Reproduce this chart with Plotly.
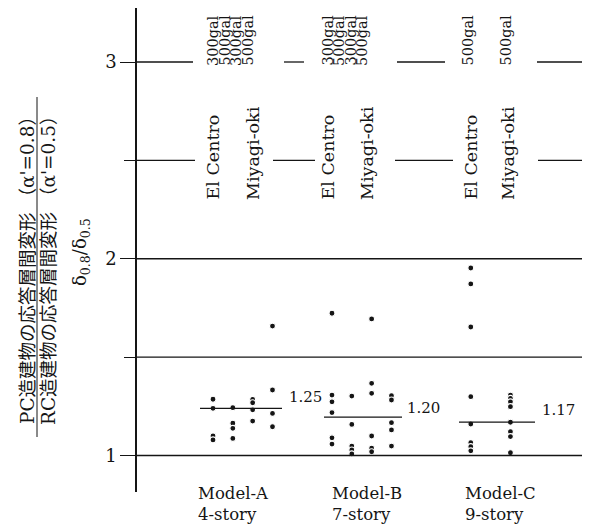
import plotly.graph_objects as go

# ---------------- data ----------------
models = ["Model-A", "Model-B", "Model-C"]
stories = ["4-story", "7-story", "9-story"]
col_labels = ["El Centro 300gal", "El Centro 500gal", "Miyagi-oki 300gal", "Miyagi-oki 500gal"]

# Model-A (4-story)
a_ec300 = [1.286, 1.240, 1.099, 1.079]
a_ec500 = [1.243, 1.164, 1.138, 1.087]
a_mo300 = [1.285, 1.268, 1.232, 1.175]
a_mo500 = [1.658, 1.333, 1.214, 1.146]
# Model-B (7-story)
b_ec300 = [1.723, 1.307, 1.273, 1.218, 1.090, 1.058]
b_ec500 = [1.302, 1.158, 1.048, 1.028, 1.008]
b_mo300 = [1.694, 1.367, 1.316, 1.099, 1.037, 1.019]
b_mo500 = [1.304, 1.282, 1.167, 1.130, 1.048]
# Model-C (9-story): only 500gal cases
c_ec500 = [1.953, 1.872, 1.653, 1.299, 1.160, 1.065, 1.045, 1.024]
c_mo500 = [1.307, 1.290, 1.273, 1.248, 1.169, 1.121, 1.096, 1.014]

mean_values = [1.24, 1.195, 1.17]
mean_labels = ["1.25", "1.20", "1.17"]

y_ticks = [1, 2, 3]
y_minor = [1.5, 2.5]
full_grid = [1, 1.5, 2]

series = [
    (0, 0, a_ec300), (0, 1, a_ec500), (0, 2, a_mo300), (0, 3, a_mo500),
    (1, 0, b_ec300), (1, 1, b_ec500), (1, 2, b_mo300), (1, 3, b_mo500),
    (2, 1, c_ec500), (2, 3, c_mo500),
]

# ---------------- geometry helpers (layout only; page pixels) ----------------
OFF = 8                 # page body margin
GROUP = 6               # x-units between model groups
PX_L, PX_R, PX_T, PX_B = 137, 590, 8, 492   # plot area in page pixels
W, H = 590 - OFF, 524 - OFF
L, R, T, B = PX_L - OFF, 0, PX_T - OFF, H - (PX_B - OFF)
PXU = 19.83             # pixels per x unit
X0PX = 213              # page pixel of x=0


def xu(px):
    return (px - X0PX) / PXU


def yv(py):
    return 1 + (455.5 - py) / 196.75


def xp(px):
    return (px - PX_L) / (PX_R - PX_L)


def yp(py):
    return (PX_B - py) / (PX_B - PX_T)


FONT = "DejaVu Serif, Noto Sans CJK JP"
INK = "#151515"

fig = go.Figure()

xs, ys = [], []
for g, c, vals in series:
    for v in vals:
        xs.append(g * GROUP + c)
        ys.append(v)

shapes = []
for v in full_grid:
    shapes.append(dict(type="line", xref="paper", yref="y", x0=0, x1=1, y0=v, y1=v,
                       line=dict(color=INK, width=1.6 if v == 1 else 1.3)))
segs3 = [(137, 193), (284, 304), (397, 445), (537, 590)]
segs25 = [(137, 195), (273, 315), (395, 453), (538, 590)]
for v, segs in [(3, segs3), (2.5, segs25)]:
    for a, b in segs:
        shapes.append(dict(type="line", xref="x", yref="y", x0=xu(a), x1=xu(b), y0=v, y1=v,
                           line=dict(color=INK, width=1.3)))
mean_spans = [(200, 282), (324, 402), (459, 535)]
for (a, b), m in zip(mean_spans, mean_values):
    shapes.append(dict(type="line", xref="x", yref="y", x0=xu(a), x1=xu(b), y0=m, y1=m,
                       line=dict(color=INK, width=1.3)))
shapes.append(dict(type="line", xref="paper", yref="paper", x0=xp(37), x1=xp(37),
                   y0=yp(97), y1=yp(437), line=dict(color=INK, width=1)))

fig.add_trace(go.Scatter(
    x=xs, y=ys, mode="markers",
    marker=dict(color=INK, size=6, line=dict(color="white", width=1.2)),
    showlegend=False, hoverinfo="y"))

ann = []
mean_lab_pos = [(287, 397), (405, 408), (540, 410)]
for (px, py), t in zip(mean_lab_pos, mean_labels):
    ann.append(dict(x=xu(px), y=yv(py), xref="x", yref="y", text=t, showarrow=False,
                    xanchor="left", yanchor="middle", font=dict(size=15, family=FONT, color=INK)))

gal = [(212.5, "300gal"), (224, "500gal"), (235.5, "300gal"), (247, "500gal"),
       (327, "300gal"), (338.5, "500gal"), (350, "300gal"), (361.5, "500gal"),
       (467, "500gal"), (505, "500gal")]
for px, t in gal:
    ann.append(dict(x=xu(px), y=yv(68), xref="x", yref="y", text=t, showarrow=False,
                    textangle=-90, xanchor="center", yanchor="bottom",
                    font=dict(size=14.5, family=FONT, color=INK)))
quake = [(212, "El Centro"), (253, "Miyagi-oki"), (327, "El Centro"), (367, "Miyagi-oki"),
         (470, "El Centro"), (508, "Miyagi-oki")]
for px, t in quake:
    ann.append(dict(x=xu(px), y=yv(202), xref="x", yref="y", text=t, showarrow=False,
                    textangle=-90, xanchor="center", yanchor="bottom",
                    font=dict(size=17.5, family=FONT, color=INK)))

for i, (m, s) in enumerate(zip(models, stories)):
    lx = [196, 330, 463][i]
    ann.append(dict(x=xp(lx), y=yp(482), xref="paper", yref="paper", text=m + "<br>" + s,
                    showarrow=False, xanchor="left", yanchor="top", align="left",
                    font=dict(size=16.5, family=FONT, color=INK)))

ann.append(dict(x=xp(27), y=yp(266), xref="paper", yref="paper",
                text="PC造建物の応答層間変形 （α'=0.8）", showarrow=False, textangle=-90,
                xanchor="center", yanchor="middle", font=dict(size=18.5, family=FONT, color=INK)))
ann.append(dict(x=xp(48), y=yp(266), xref="paper", yref="paper",
                text="RC造建物の応答層間変形 （α'=0.5）", showarrow=False, textangle=-90,
                xanchor="center", yanchor="middle", font=dict(size=18.5, family=FONT, color=INK)))
ann.append(dict(x=xp(81), y=yp(252), xref="paper", yref="paper",
                text="δ<sub>0.8</sub>/δ<sub>0.5</sub>", showarrow=False, textangle=-90,
                xanchor="center", yanchor="middle", font=dict(size=18, family=FONT, color=INK)))

fig.update_layout(
    width=W, height=H, margin=dict(l=L, r=R, t=T, b=B, pad=0),
    paper_bgcolor="white", plot_bgcolor="white",
    shapes=shapes, annotations=ann,
    xaxis=dict(range=[xu(PX_L), xu(PX_R)], visible=False, fixedrange=True),
    yaxis=dict(range=[yv(PX_B), yv(PX_T)], tickvals=y_ticks, ticktext=[str(v) for v in y_ticks],
               ticks="outside", ticklen=15, tickwidth=1.3, tickcolor=INK,
               showline=True, linecolor=INK, linewidth=1.6, showgrid=False, zeroline=False,
               tickfont=dict(size=18, family=FONT, color=INK),
               minor=dict(tickvals=y_minor, ticks="outside", ticklen=11, tickwidth=1.3,
                          tickcolor=INK, showgrid=False)),
)

fig.write_html("out.html")
